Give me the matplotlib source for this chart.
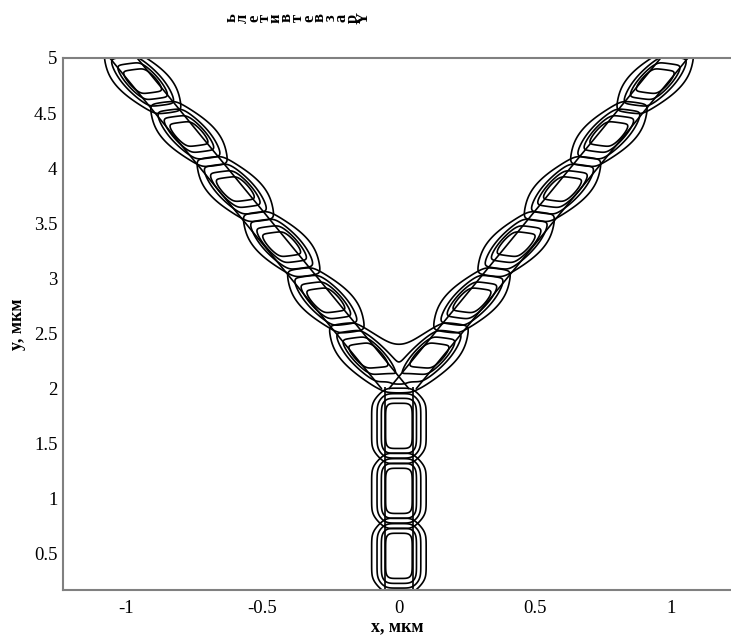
import numpy as np
import matplotlib
matplotlib.use("Agg")
import matplotlib.pyplot as plt

# =========================
# Data
# =========================
# stem lobes (x = 0), centres along y, in um
stem_y = [0.48, 1.07, 1.66]
# branch lobes (mirrored at +/- x), centres in um
branch_x = [0.114, 0.268, 0.43, 0.60, 0.77, 0.94]
branch_y = [2.30, 2.80, 3.31, 3.81, 4.31, 4.79]

# waveguide geometry
guide_halfwidth = 0.05
stem_top = 2.02
branch_start = (0.0, 1.957)   # where branch axes leave x = 0
branch_slope = 0.332          # dx/dy of right branch

levels = [0.1, 0.25, 0.5, 0.8]

x_ticks = [-1, -0.5, 0, 0.5, 1]
x_ticklabels = ["-1", "-0.5", "0", "0.5", "1"]
y_ticks = [0.5, 1, 1.5, 2, 2.5, 3, 3.5, 4, 4.5, 5]
y_ticklabels = ["0.5", "1", "1.5", "2", "2.5", "3", "3.5", "4", "4.5", "5"]

title_text = "Y-разветвитель"

# =========================
# Build fields
# =========================
x = np.linspace(-1.3, 1.3, 800)
y = np.linspace(0.0, 5.3, 1000)
X, Y = np.meshgrid(x, y)


def local(xc, yc, theta):
    dx = X - xc
    dy = Y - yc
    u = dx * np.sin(theta) + dy * np.cos(theta)
    v = dx * np.cos(theta) - dy * np.sin(theta)
    return u, v


def stem_spot(yc):
    # flat-topped spot in the straight guide
    u, v = local(0.0, yc, 0.0)
    return 1.0 / (1.0 + (np.abs(u) / 0.25) ** 7) / (1.0 + (np.abs(v) / 0.0644) ** 5)


def branch_spot(xc, yc, theta):
    u, v = local(xc, yc, theta)
    inner = np.exp(-(u / 0.17) ** 2) / (1.0 + (np.abs(v) / 0.058) ** 7)
    outer = 0.16 * np.exp(-(u / 0.30) ** 2 - (v / 0.13) ** 2)
    return inner + outer


fields = [stem_spot(yc) for yc in stem_y]

theta = np.arctan(branch_slope)
for xc, yc in zip(branch_x, branch_y):
    fields.append(branch_spot(xc, yc, theta) + branch_spot(-xc, yc, -theta))

# guide boundaries (distance to each guide axis)
d_stem = np.where(Y <= stem_top, np.abs(X), np.nan)
xr = branch_start[0] + branch_slope * (Y - branch_start[1])
d_right = np.where(Y >= 1.99, np.abs(X - xr), np.nan)
d_left = np.where(Y >= 1.99, np.abs(X + xr), np.nan)

# =========================
# Plot
# =========================
plt.rcParams["font.family"] = ["Liberation Serif", "DejaVu Serif"]
plt.rcParams["axes.unicode_minus"] = False

fig = plt.figure(figsize=(7.31, 6.4), dpi=100)
ax = fig.add_axes([63 / 731, 50 / 640, 1 - 63 / 731, (590 - 58) / 640])

for Z in fields:
    ax.contour(X, Y, Z, levels=levels, colors="black", linewidths=1.2)
for d in (d_stem, d_right, d_left):
    ax.contour(X, Y, d, levels=[guide_halfwidth], colors="black", linewidths=1.2)

ax.set_xlim(-1.232, 1.218)
ax.set_ylim(0.17, 5.0)
ax.set_xticks(x_ticks)
ax.set_xticklabels(x_ticklabels)
ax.set_yticks(y_ticks)
ax.set_yticklabels(y_ticklabels)
ax.tick_params(length=0, labelsize=13.5)
ax.tick_params(axis="x", pad=7)
ax.tick_params(axis="y", pad=4)

for s in ("top", "bottom", "left"):
    ax.spines[s].set_color("#808080")
    ax.spines[s].set_linewidth(1.5)
ax.spines["right"].set_visible(False)

ax.set_xlabel("x, мкм", fontsize=13, fontweight="bold")
ax.set_ylabel("y, мкм", fontsize=13, fontweight="bold")
ax.xaxis.label.set_va("center")
ax.yaxis.label.set_va("center")
ax.xaxis.set_label_coords(0.5, -37 / 532)
ax.yaxis.set_label_coords(-45 / 668, 0.5)

# title: glyphs turned on their side, laid right to left
x0, step = 364, 11
for i, ch in enumerate([c for c in title_text if c != "-"]):
    fig.text((x0 - i * step) / 731, 1 - 18 / 640, ch, rotation=90,
             fontsize=12, fontweight="bold", ha="center", va="center")

fig.savefig("out.png", dpi=100)
